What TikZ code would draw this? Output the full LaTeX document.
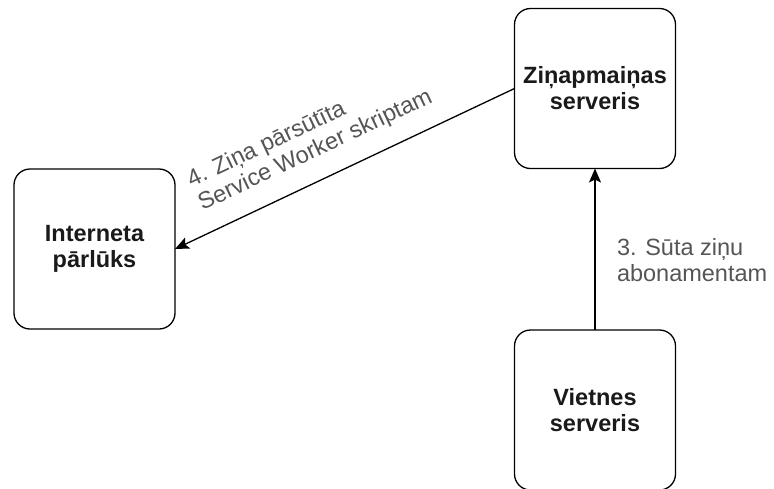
\documentclass[tikz,border=0pt]{standalone}
\usepackage{fontspec}
\setmainfont{Liberation Sans}
\usetikzlibrary{arrows.meta}
\definecolor{boxtext}{HTML}{1A1A1A}
\definecolor{edgetext}{HTML}{555555}
\begin{document}
\begin{tikzpicture}[
  every node/.style={inner sep=0pt, outer sep=0pt},
  box/.style={draw=black, line width=1.3pt, rounded corners=16pt,
    minimum width=161pt, minimum height=160pt, align=center,
    font=\fontsize{23.5pt}{26pt}\selectfont\bfseries, text=boxtext},
  lbl/.style={align=left, font=\fontsize{23.5pt}{26pt}\selectfont, text=edgetext},
  arr/.style={draw=black, line width=1.3pt,
    -{Stealth[length=14pt, width=12pt, inset=3pt]}}
]
\useasboundingbox (0pt,0pt) rectangle (774pt,-488pt);

% nodes
\node[box] (int) at (94.5pt,-249pt) {Interneta\\pārlūks};
\node[box] (zin) at (595pt,-88.5pt) {Ziņapmaiņas\\serveris};
\node[box] (vie) at (595pt,-410pt) {Vietnes\\serveris};

% connectors
\draw[arr] (vie.north) -- (zin.south);
\draw[arr] (zin.west) -- (int.east);

% edge labels
\node[lbl, anchor=west] (l3) at (617pt,-260pt) {3. Sūta ziņu\\abonamentam};
\node[lbl, rotate=25.3] (l4) at (310pt,-139pt) {4. Ziņa pārsūtīta\\Service Worker skriptam};
\end{tikzpicture}
\end{document}
